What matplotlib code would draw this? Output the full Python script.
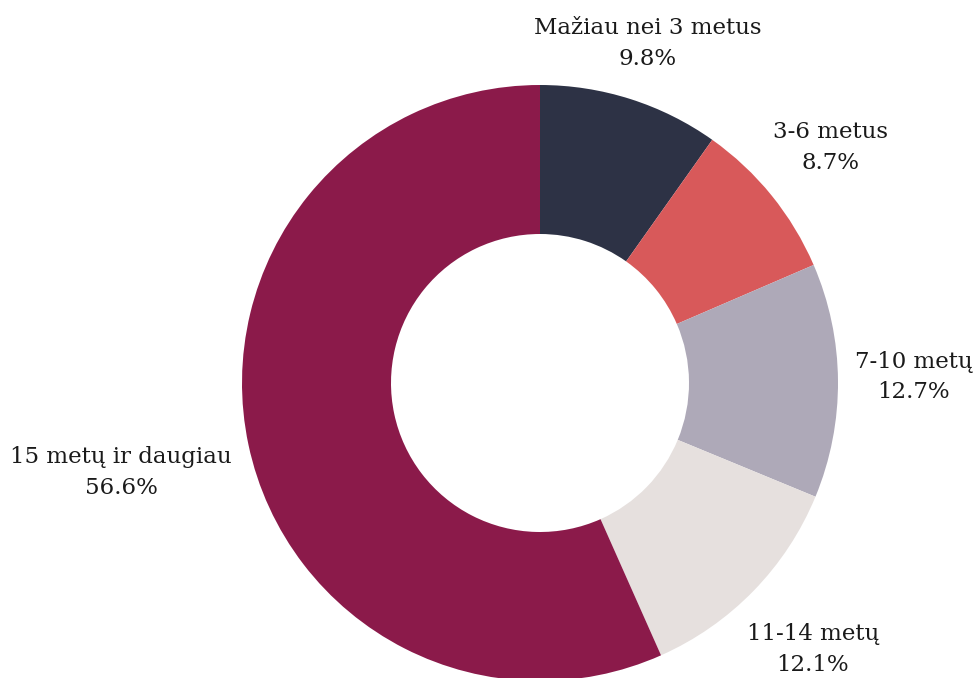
import matplotlib
matplotlib.use("Agg")
import matplotlib.pyplot as plt

# Data
categories = ["Mažiau nei 3 metus", "3-6 metus", "7-10 metų", "11-14 metų", "15 metų ir daugiau"]
shares = [9.8, 8.7, 12.7, 12.1, 56.6]
colors = ["#2d3245", "#d8595a", "#aea9b8", "#e6e0de", "#8b1a4a"]

# label block centres (data units, radius = 1)
label_pos = [(0.36, 1.14), (0.975, 0.79), (1.255, 0.02), (0.915, -0.895), (-1.405, -0.30)]

fig = plt.figure(figsize=(9.76, 6.78), dpi=100)
ax = fig.add_axes([0, 0, 1, 1])

ax.pie(shares, colors=colors, startangle=90, counterclock=False, radius=1.0,
       wedgeprops=dict(width=0.5, linewidth=0))

for name, val, (x, y) in zip(categories, shares, label_pos):
    ax.text(x, y, f"{name}\n{val:.1f}%", ha="center", va="center",
            fontsize=16.5, family="DejaVu Serif", color="#1a1a1a", linespacing=1.5)

ax.set_xlim(-540 / 298, (976 - 540) / 298)
ax.set_ylim(-(678 - 383) / 298, 383 / 298)
ax.set_aspect("equal")
ax.axis("off")

fig.savefig("out.png", dpi=100)
